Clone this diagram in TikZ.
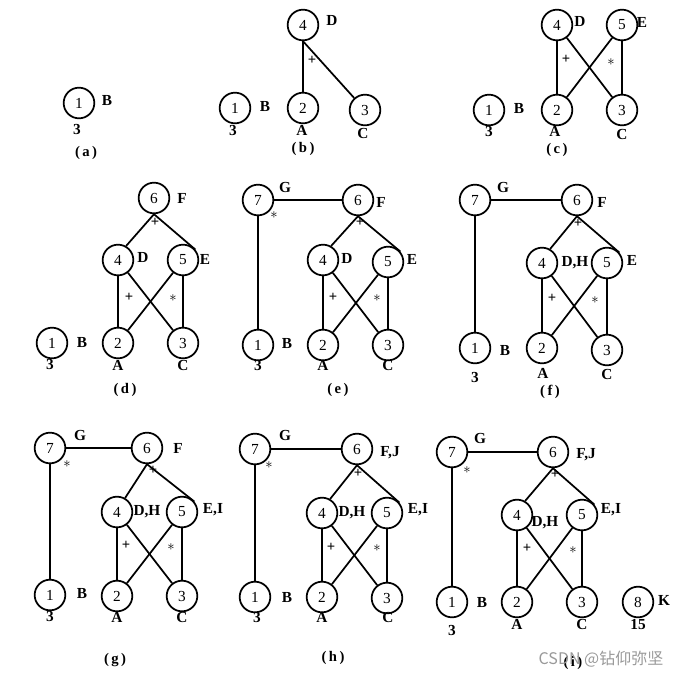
\documentclass[tikz,border=0pt]{standalone}
\usepackage{fontspec}
\setmainfont{Liberation Serif}
\newfontfamily\cjk{Noto Sans CJK SC}
\begin{document}
\begin{tikzpicture}[x=0.75pt,y=-0.75pt]
\tikzset{
  nd/.style={circle,draw,line width=1.3pt,minimum size=23pt,inner sep=0pt,font=\fontsize{11.5}{11.5}\selectfont},
  tx/.style={inner sep=0pt,font=\bfseries\fontsize{11.5}{11.5}\selectfont},
  captxt/.style={inner sep=0pt,font=\bfseries\fontsize{11}{11}\selectfont},
  mk/.style={inner sep=0pt,font=\bfseries\fontsize{11}{11}\selectfont},
  ed/.style={line width=1.3pt},
}
\useasboundingbox (0,0) rectangle (685,672);
% ---------- (a)
\node[nd] (a1) at (79,103) {1};
\node[tx] (aB) at (107,100) {B};
\node[tx] (a3) at (77,129) {3};
\node[captxt] (acap) at (86,153) {(\,a\,)};
% ---------- (b)
\node[nd] (b4) at (303,25) {4};
\node[tx] (bD) at (332,20) {D};
\node[nd] (b1) at (235,108) {1};
\node[tx] (bB) at (265,106) {B};
\node[nd] (b2) at (303,108) {2};
\node[nd] (b3) at (365,110) {3};
\node[tx] (b3l) at (233,130) {3};
\node[tx] (bA) at (302,130) {A};
\node[tx] (bC) at (363,133) {C};
\node[mk] (bp) at (312,60) {+};
\node[captxt] (bcap) at (303,149) {(\,b\,)};
\draw[ed] (b4.south) -- (b2.north);
\draw[ed] (b4.south) -- (b3);
% ---------- (c)
\node[nd] (c4) at (557,25) {4};
\node[tx] (cD) at (580,21) {D};
\node[nd] (c5) at (622,25) {5};
\node[tx] (cE) at (642,22) {E};
\node[nd] (c1) at (489,110) {1};
\node[tx] (cB) at (519,108) {B};
\node[nd] (c2) at (557,110) {2};
\node[nd] (c3) at (622,110) {3};
\node[tx] (c3l) at (489,131) {3};
\node[tx] (cA) at (555,131) {A};
\node[tx] (cC) at (622,134) {C};
\node[mk] (cp) at (566,59) {+};
\node[mk] (cs) at (611,62) {$\ast$};
\node[captxt] (ccap) at (557,150) {(\,c\,)};
\draw[ed] (c4.south) -- (c2.north);
\draw[ed] (c4) -- (c3);
\draw[ed] (c5) -- (c2);
\draw[ed] (c5.south) -- (c3.north);
% ---------- (d)
\node[nd] (d6) at (154,198) {6};
\node[tx] (dF) at (182,198) {F};
\node[mk] (dp6) at (155,222) {+};
\node[nd] (d4) at (118,260) {4};
\node[tx] (dD) at (143,257) {D};
\node[nd] (d5) at (183,260) {5};
\node[tx] (dE) at (205,259) {E};
\node[mk] (dp) at (129,297) {+};
\node[mk] (ds) at (173,298) {$\ast$};
\node[nd] (d1) at (52,343) {1};
\node[tx] (dB) at (82,342) {B};
\node[nd] (d2) at (118,343) {2};
\node[nd] (d3) at (183,343) {3};
\node[tx] (d3l) at (50,364) {3};
\node[tx] (dA) at (118,365) {A};
\node[tx] (dC) at (183,365) {C};
\node[captxt] (dcap) at (125,390) {(\,d\,)};
\draw[ed] (d6.south) -- (d4.60);
\draw[ed] (d6.south) -- (d5.40);
\draw[ed] (d4.south) -- (d2.north);
\draw[ed] (d4) -- (d3);
\draw[ed] (d5) -- (d2);
\draw[ed] (d5.south) -- (d3.north);
% ---------- (e)
\node[nd] (e7) at (258,200) {7};
\node[tx] (eG) at (285,187) {G};
\node[mk] (es7) at (274,215) {$\ast$};
\node[nd] (e6) at (358,200) {6};
\node[tx] (eF) at (381,202) {F};
\node[mk] (ep6) at (360,222) {+};
\node[nd] (e4) at (323,260) {4};
\node[tx] (eD) at (347,258) {D};
\node[nd] (e5) at (388,262) {5};
\node[tx] (eE) at (412,259) {E};
\node[mk] (ep) at (333,297) {+};
\node[mk] (es) at (377,298) {$\ast$};
\node[nd] (e1) at (258,345) {1};
\node[tx] (eB) at (287,343) {B};
\node[nd] (e2) at (323,345) {2};
\node[nd] (e3) at (388,345) {3};
\node[tx] (e3l) at (258,365) {3};
\node[tx] (eA) at (323,365) {A};
\node[tx] (eC) at (388,365) {C};
\node[captxt] (ecap) at (338,390) {(\,e\,)};
\draw[ed] (e7.east) -- (e6.west);
\draw[ed] (e7.south) -- (e1.north);
\draw[ed] (e6.south) -- (e4.60);
\draw[ed] (e6.south) -- (e5.40);
\draw[ed] (e4.south) -- (e2.north);
\draw[ed] (e4) -- (e3);
\draw[ed] (e5) -- (e2);
\draw[ed] (e5.south) -- (e3.north);
% ---------- (f)
\node[nd] (f7) at (475,200) {7};
\node[tx] (fG) at (503,187) {G};
\node[nd] (f6) at (577,200) {6};
\node[tx] (fF) at (602,202) {F};
\node[mk] (fp6) at (578,223) {+};
\node[nd] (f4) at (542,263) {4};
\node[tx] (fDH) at (575,263) {D,H};
\node[nd] (f5) at (607,263) {5};
\node[tx] (fE) at (632,260) {E};
\node[mk] (fp) at (552,298) {+};
\node[mk] (fs) at (595,300) {$\ast$};
\node[nd] (f1) at (475,348) {1};
\node[tx] (fB) at (505,350) {B};
\node[nd] (f2) at (542,348) {2};
\node[nd] (f3) at (607,350) {3};
\node[tx] (f3l) at (475,377) {3};
\node[tx] (fA) at (543,373) {A};
\node[tx] (fC) at (607,374) {C};
\node[captxt] (fcap) at (550,392) {(\,f\,)};
\draw[ed] (f7.east) -- (f6.west);
\draw[ed] (f7.south) -- (f1.north);
\draw[ed] (f6.south) -- (f4.60);
\draw[ed] (f6.south) -- (f5.40);
\draw[ed] (f4.south) -- (f2.north);
\draw[ed] (f4) -- (f3);
\draw[ed] (f5) -- (f2);
\draw[ed] (f5.south) -- (f3.north);
% ---------- (g)
\node[nd] (g7) at (50,448) {7};
\node[tx] (gG) at (80,435) {G};
\node[mk] (gs7) at (67,464) {$\ast$};
\node[nd] (g6) at (147,448) {6};
\node[tx] (gF) at (178,448) {F};
\node[mk] (gp6) at (153,470) {+};
\node[nd] (g4) at (117,512) {4};
\node[tx] (gDH) at (147,512) {D,H};
\node[nd] (g5) at (182,512) {5};
\node[tx] (gEI) at (213,510) {E,I};
\node[mk] (gp) at (126,545) {+};
\node[mk] (gs) at (171,547) {$\ast$};
\node[nd] (g1) at (50,595) {1};
\node[tx] (gB) at (82,593) {B};
\node[nd] (g2) at (117,596) {2};
\node[nd] (g3) at (182,596) {3};
\node[tx] (g3l) at (50,616) {3};
\node[tx] (gA) at (117,617) {A};
\node[tx] (gC) at (182,617) {C};
\node[captxt] (gcap) at (115,660) {(\,g\,)};
\draw[ed] (g7.east) -- (g6.west);
\draw[ed] (g7.south) -- (g1.north);
\draw[ed] (g6.south) -- (g4.60);
\draw[ed] (g6.south) -- (g5.40);
\draw[ed] (g4.south) -- (g2.north);
\draw[ed] (g4) -- (g3);
\draw[ed] (g5) -- (g2);
\draw[ed] (g5.south) -- (g3.north);
% ---------- (h)
\node[nd] (h7) at (255,449) {7};
\node[tx] (hG) at (285,435) {G};
\node[mk] (hs7) at (269,465) {$\ast$};
\node[nd] (h6) at (357,449) {6};
\node[tx] (hFJ) at (390,453) {F,J};
\node[mk] (hp6) at (358,473) {+};
\node[nd] (h4) at (322,513) {4};
\node[tx] (hDH) at (352,513) {D,H};
\node[nd] (h5) at (387,513) {5};
\node[tx] (hEI) at (418,510) {E,I};
\node[mk] (hp) at (331,547) {+};
\node[mk] (hs) at (377,548) {$\ast$};
\node[nd] (h1) at (255,597) {1};
\node[tx] (hB) at (287,597) {B};
\node[nd] (h2) at (322,597) {2};
\node[nd] (h3) at (387,598) {3};
\node[tx] (h3l) at (257,617) {3};
\node[tx] (hA) at (322,617) {A};
\node[tx] (hC) at (388,617) {C};
\node[captxt] (hcap) at (333,658) {(\,h\,)};
\draw[ed] (h7.east) -- (h6.west);
\draw[ed] (h7.south) -- (h1.north);
\draw[ed] (h6.south) -- (h4.60);
\draw[ed] (h6.south) -- (h5.40);
\draw[ed] (h4.south) -- (h2.north);
\draw[ed] (h4) -- (h3);
\draw[ed] (h5) -- (h2);
\draw[ed] (h5.south) -- (h3.north);
% ---------- (i)
\node[nd] (i7) at (452,452) {7};
\node[tx] (iG) at (480,438) {G};
\node[mk] (is7) at (467,470) {$\ast$};
\node[nd] (i6) at (553,452) {6};
\node[tx] (iFJ) at (586,455) {F,J};
\node[mk] (ip6) at (555,474) {+};
\node[nd] (i4) at (517,515) {4};
\node[tx] (iDH) at (545,523) {D,H};
\node[nd] (i5) at (582,515) {5};
\node[tx] (iEI) at (611,510) {E,I};
\node[mk] (ip) at (527,548) {+};
\node[mk] (is) at (573,550) {$\ast$};
\node[nd] (i1) at (452,602) {1};
\node[tx] (iB) at (482,602) {B};
\node[nd] (i2) at (517,602) {2};
\node[nd] (i3) at (582,602) {3};
\node[nd] (i8) at (638,602) {8};
\node[tx] (iK) at (664,600) {K};
\node[tx] (i3l) at (452,630) {3};
\node[tx] (iA) at (517,624) {A};
\node[tx] (iC) at (582,624) {C};
\node[tx] (i15) at (638,625) {15};
\node[captxt] (icap) at (573,663) {(\,i\,)};
\draw[ed] (i7.east) -- (i6.west);
\draw[ed] (i7.south) -- (i1.north);
\draw[ed] (i6.south) -- (i4.60);
\draw[ed] (i6.south) -- (i5.40);
\draw[ed] (i4.south) -- (i2.north);
\draw[ed] (i4) -- (i3);
\draw[ed] (i5) -- (i2);
\draw[ed] (i5.south) -- (i3.north);
% ---------- watermark
\node[inner sep=0pt,text=black!40,font=\cjk\fontsize{12}{12}\selectfont] (wm) at (601,659) {CSDN @钻仰弥坚};
\end{tikzpicture}
\end{document}
